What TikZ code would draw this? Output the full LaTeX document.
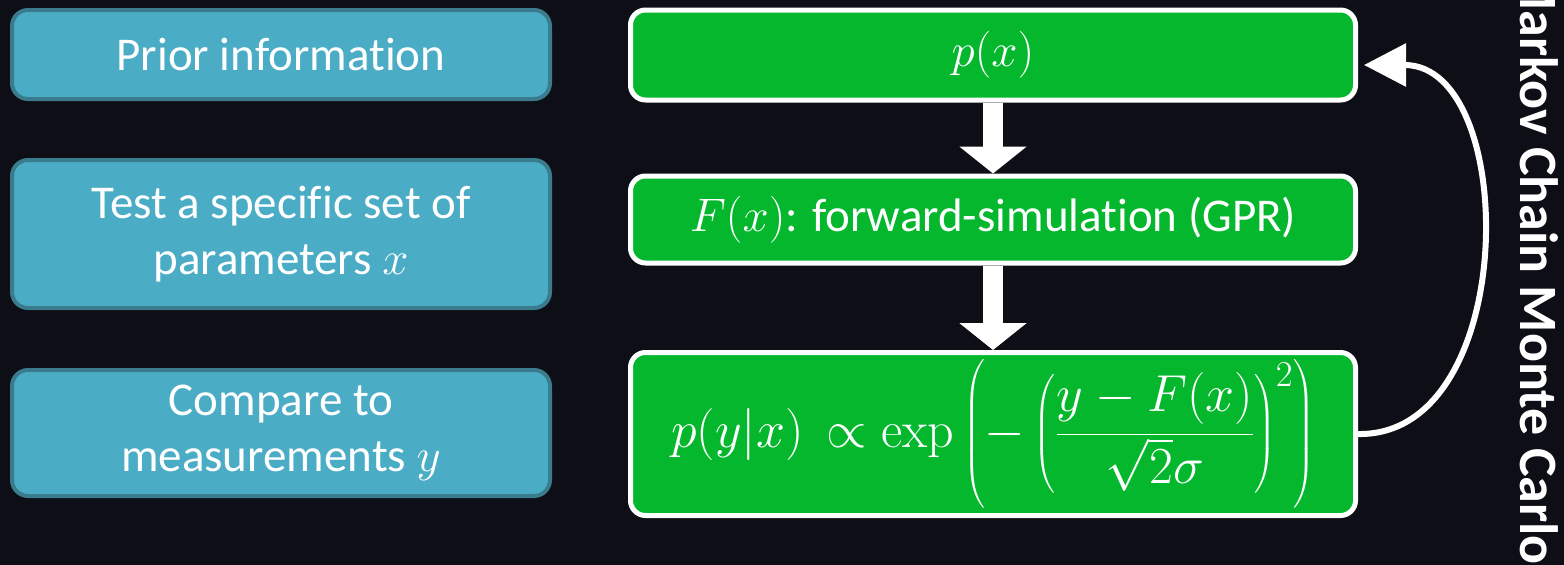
\RequirePackage{fix-cm}
\documentclass[tikz,border=0pt]{standalone}
\usepackage{amsmath}
\usepackage[no-math]{fontspec}
\setmainfont[Ligatures=NoCommon]{Carlito}
\usetikzlibrary{arrows.meta}
\definecolor{bg}{RGB}{13,14,22}
\definecolor{bluefill}{RGB}{75,172,198}
\definecolor{blueedge}{RGB}{58,124,142}
\definecolor{greenfill}{RGB}{4,183,45}
\tikzset{
  bluebox/.style={draw=blueedge, line width=4pt, fill=bluefill, rounded corners=16pt,
    text=white, align=center, inner sep=0pt, minimum width=538pt,
    font=\fontsize{47}{56}\selectfont},
  greenbox/.style={draw=white, line width=5pt, fill=greenfill, rounded corners=15pt,
    text=white, align=center, inner sep=0pt, minimum width=725pt,
    font=\fontsize{47}{56}\selectfont},
  formulafont/.style={font=\fontsize{52}{60}\selectfont},
  blockarrow/.style={draw=white, line width=20pt, -{Triangle[length=27pt,width=66pt]}},
  looparrow/.style={draw=white, line width=6pt, -{Triangle[length=42pt,width=42pt]}},
  sidetitle/.style={rotate=-90, anchor=base east, text=white, inner sep=0pt,
    font=\bfseries\fontsize{54}{60}\selectfont},
}
\begin{document}
\begin{tikzpicture}[x=1pt,y=-1pt]
\fill[bg] (0,0) rectangle (1564,565);
\useasboundingbox (0,0) rectangle (1564,565);
\clip (0,0) rectangle (1564,565);

% left column
\node[bluebox, minimum height=89pt] (L1) at (281,54.5) {Prior information};
\node[bluebox, minimum height=148pt] (L2) at (281,234) {Test a specific set of\\parameters $x$};
\node[bluebox, minimum height=126pt] (L3) at (281,433) {Compare to\\measurements $y$};

% right column
\node[greenbox, minimum height=90pt] (A) at (993,55) {$p(x)$};
\node[greenbox, minimum height=87pt] (B) at (993,219.5) {$F(x)$: forward-simulation (GPR)};
\node[greenbox, formulafont, minimum height=163pt] (C) at (993,434)
  {\raisebox{-7pt}{$\displaystyle p(y|x)\,\propto\exp\left(-\left(\frac{y-F(x)}{\sqrt{2}\sigma}\right)^{2}\right)$}};

% block arrows
\draw[blockarrow] (A.south) -- (B.north);
\draw[blockarrow] (B.south) -- (C.north);

% loop arrow
\draw[looparrow] (C.east) .. controls (1520,437) and (1520,65) .. ([xshift=6pt,yshift=-10pt]A.east);

% side title
\node[sidetitle] (mcmc) at (1520,565) {Markov Chain Monte Carlo};
\end{tikzpicture}
\end{document}
